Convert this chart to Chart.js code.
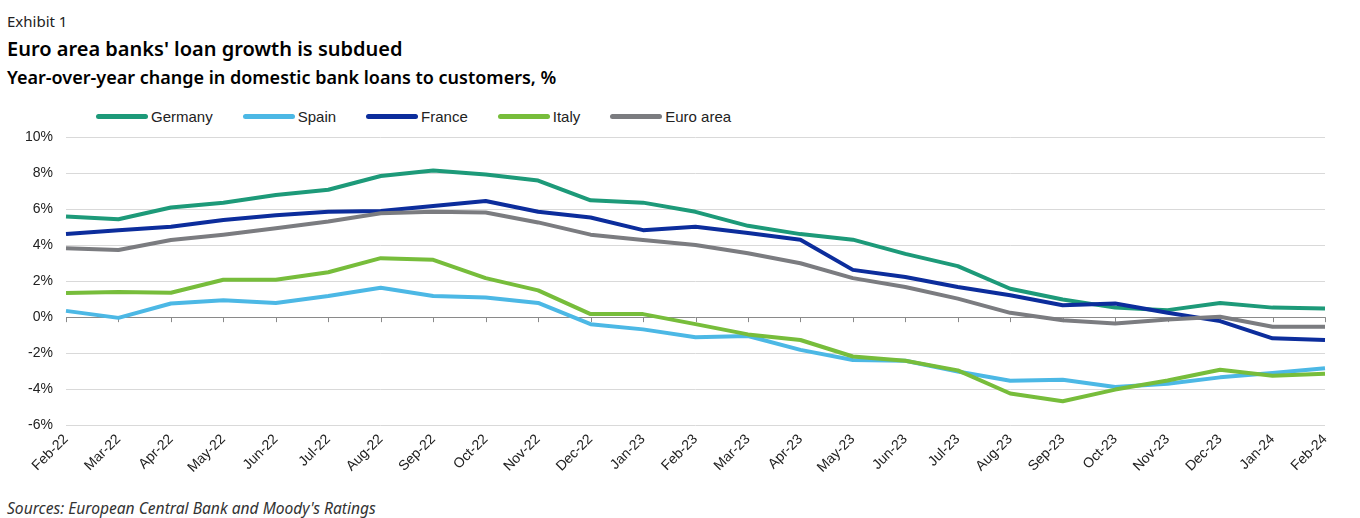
<!DOCTYPE html>
<html>
<head>
<meta charset="utf-8">
<script src="https://cdn.jsdelivr.net/npm/chart.js@4.4.1/dist/chart.umd.min.js"></script>
<style>
  html, body { margin: 0; padding: 0; background: #fff; }
  body { width: 1360px; height: 518px; position: relative; overflow: hidden; font-family: "Noto Sans", "Open Sans", sans-serif; }
  .exhibit { position: absolute; left: 7px; top: 11px; font-size: 15px; color: #222; font-weight: 400; }
  .title { position: absolute; left: 7px; top: 35px; font-size: 20px; color: #000; font-weight: 600; }
  .subtitle { position: absolute; left: 7px; top: 65px; font-size: 18px; color: #000; font-weight: 600; }
  .sources { position: absolute; left: 7px; top: 497px; font-size: 15.6px; color: #333; font-style: italic; }
  #legend { position: absolute; left: 96px; top: 106px; height: 20px; display: flex; align-items: center; font-family: "Liberation Sans", Arial, sans-serif; font-size: 15px; color: #222; }
  #legend .item { display: flex; align-items: center; margin-right: 30px; }
  #legend .swatch { width: 52px; height: 5px; border-radius: 3px; margin-right: 3px; }
  #wrap { position: absolute; left: 0; top: 116px; width: 1360px; height: 359px; }
</style>
</head>
<body>
<div class="exhibit">Exhibit 1</div>
<div class="title">Euro area banks' loan growth is subdued</div>
<div class="subtitle">Year-over-year change in domestic bank loans to customers, %</div>
<div id="legend"></div>
<div id="wrap"><canvas id="c" width="1360" height="359"></canvas></div>
<div class="sources">Sources: European Central Bank and Moody's Ratings</div>
<script>
const categories = ["Feb-22","Mar-22","Apr-22","May-22","Jun-22","Jul-22","Aug-22","Sep-22","Oct-22","Nov-22","Dec-22",
  "Jan-23","Feb-23","Mar-23","Apr-23","May-23","Jun-23","Jul-23","Aug-23","Sep-23","Oct-23","Nov-23","Dec-23","Jan-24","Feb-24"];
const germany = [5.6,5.45,6.1,6.37,6.8,7.09,7.85,8.16,7.94,7.6,6.5,6.37,5.86,5.08,4.62,4.31,3.52,2.84,1.58,0.98,0.53,0.39,0.79,0.53,0.48];
const spain   = [0.35,-0.04,0.76,0.94,0.79,1.18,1.64,1.18,1.09,0.79,-0.39,-0.68,-1.12,-1.05,-1.82,-2.38,-2.43,-3.02,-3.54,-3.48,-3.89,-3.7,-3.35,-3.11,-2.84];
const france  = [4.62,4.84,5.03,5.41,5.67,5.86,5.91,6.19,6.46,5.86,5.54,4.84,5.03,4.68,4.31,2.63,2.23,1.68,1.22,0.66,0.76,0.24,-0.22,-1.18,-1.27];
const italy   = [1.34,1.4,1.36,2.08,2.08,2.5,3.28,3.19,2.17,1.49,0.17,0.17,-0.39,-0.96,-1.27,-2.19,-2.43,-2.96,-4.25,-4.68,-4.03,-3.52,-2.93,-3.26,-3.15];
const euroArea= [3.83,3.74,4.29,4.59,4.95,5.32,5.78,5.86,5.82,5.27,4.59,4.29,4.01,3.55,3.0,2.17,1.68,1.03,0.24,-0.17,-0.35,-0.13,0.02,-0.53,-0.53];
const yTicks = [-6,-4,-2,0,2,4,6,8,10];

const seriesDefs = [
  { label: "Germany",   data: germany,  color: "#1d9a79", order: 5 },
  { label: "Spain",     data: spain,    color: "#4cb8e5", order: 4 },
  { label: "France",    data: france,   color: "#0c2d9c", order: 3 },
  { label: "Italy",     data: italy,    color: "#77bd3b", order: 2 },
  { label: "Euro area", data: euroArea, color: "#7b7c80", order: 1 }
];

const legend = document.getElementById('legend');
seriesDefs.forEach(s => {
  const it = document.createElement('div'); it.className = 'item';
  const sw = document.createElement('div'); sw.className = 'swatch'; sw.style.background = s.color;
  const tx = document.createElement('span'); tx.textContent = s.label;
  it.appendChild(sw); it.appendChild(tx); legend.appendChild(it);
});

const zeroTicks = {
  id: 'zeroTicks',
  beforeDatasetsDraw(chart) {
    const x = chart.scales.x, y = chart.scales.y, ctx = chart.ctx;
    const y0 = y.getPixelForValue(0);
    ctx.save();
    ctx.strokeStyle = '#8a8a8a'; ctx.lineWidth = 1;
    ctx.beginPath();
    for (let i = 0; i < categories.length; i++) {
      const px = Math.round(x.getPixelForTick(i)) + 0.5;
      ctx.moveTo(px, y0); ctx.lineTo(px, y0 + 5);
    }
    ctx.stroke();
    ctx.restore();
  }
};

new Chart(document.getElementById('c'), {
  type: 'line',
  data: {
    labels: categories,
    datasets: seriesDefs.map(s => ({
      label: s.label, data: s.data, borderColor: s.color, backgroundColor: s.color,
      borderWidth: 4, pointRadius: 0, tension: 0, order: s.order,
      borderJoinStyle: 'round', borderCapStyle: 'butt', fill: false
    }))
  },
  options: {
    responsive: false, animation: false, devicePixelRatio: 1,
    layout: { padding: { left: 0, right: 35, top: 8, bottom: 0 } },
    plugins: { legend: { display: false }, tooltip: { enabled: false } },
    scales: {
      x: {
        offset: false,
        grid: { display: false, drawTicks: false },
        border: { display: false },
        ticks: { minRotation: 45, maxRotation: 45, autoSkip: false, padding: 6, color: '#222',
                 font: { family: 'Liberation Sans', size: 14 } },
        afterFit(scale) { scale.height = 50; }
      },
      y: {
        min: -6, max: 10,
        afterBuildTicks(scale) { scale.ticks = yTicks.map(v => ({ value: v })); },
        grid: { drawTicks: false, lineWidth: 1,
                color: ctx => (ctx.tick && ctx.tick.value === 0) ? '#8a8a8a' : '#d9d9d9' },
        border: { display: false },
        ticks: { padding: 13, color: '#222', font: { family: 'Liberation Sans', size: 14 },
                 callback: v => v + '%' },
        afterFit(scale) { scale.width = 66; }
      }
    }
  },
  plugins: [zeroTicks]
});
</script>
</body>
</html>
